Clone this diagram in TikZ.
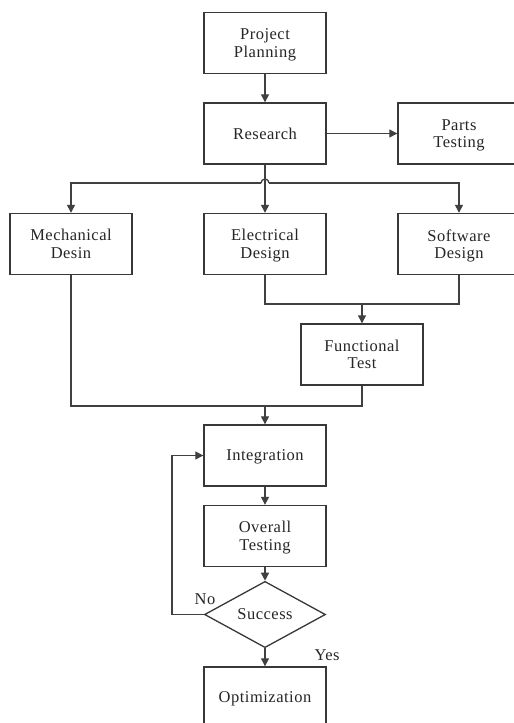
\documentclass[tikz,border=0pt]{standalone}
\usepackage{fontspec}
\setmainfont{Liberation Serif}[LetterSpace=3]
\usetikzlibrary{arrows.meta,shapes.geometric}
\begin{document}
\begin{tikzpicture}[x=1pt,y=-1pt,
  txt/.style={text=black!85, font=\fontsize{16.5}{17.5}\selectfont},
  box/.style={txt, draw=black!78, line width=1.4pt, minimum width=122pt, minimum height=61pt,
    align=center, inner sep=0pt, text depth=0pt},
  decision/.style={txt, diamond, draw=black!78, line width=1.3pt, minimum width=121pt, minimum height=59pt,
    inner sep=0pt},
  lbl/.style={txt, inner sep=0pt},
  conn/.style={draw=black!75, line width=1.3pt},
  arr/.style={conn, -{Triangle[length=8pt,width=8pt]}}]
\fill[white] (0,0) rectangle (514,723);
\useasboundingbox (0,0) rectangle (514,723);
\begin{scope}[overlay]
\clip (0,0) rectangle (514,723);
\node[box] (plan) at (265,43) {Project\\Planning};
\node[box] (research) at (265,133.5) {Research};
\node[box] (parts) at (459,133.5) {Parts\\Testing};
\node[box] (mech) at (71,244) {Mechanical\\Desin};
\node[box] (elec) at (265,244) {Electrical\\Design};
\node[box] (soft) at (459,244) {Software\\Design};
\node[box] (func) at (362,354.5) {Functional\\Test};
\node[box] (integ) at (265,455.5) {Integration};
\node[box] (overall) at (265,536) {Overall\\Testing};
\node[decision] (success) at (265,614.5) {Success};
\node[box] (optim) at (265,697.5) {Optimization};
\node[lbl] (no) at (205,599) {No};
\node[lbl] (yes) at (327,655) {Yes};
\coordinate (bus) at (265,183);
\coordinate (j1) at (362,304);
\coordinate (j2) at (265,406);
\coordinate (lp) at (172,614.5);
\draw[arr] (plan) -- (research);
\draw[arr] (research) -- (parts);
\draw[arr] (research) -- (elec);
\draw[arr] ([xshift=-4pt]bus) -| (mech);
\draw[arr] ([xshift=4pt]bus) -| (soft);
\draw[conn] ([xshift=-4pt]bus) arc[start angle=180, end angle=0, radius=4pt];
\draw[conn] (elec.south) |- (j1) -| (soft.south);
\draw[arr] (j1) -- (func);
\draw[conn] (mech.south) |- (j2);
\draw[conn] (func.south) |- (j2);
\draw[arr] (j2) -- (integ);
\draw[arr] (integ) -- (overall);
\draw[arr] (overall) -- (success);
\draw[arr] (success) -- (optim);
\draw[arr] (success.west) -- (lp) |- (integ.west);
\end{scope}
\end{tikzpicture}
\end{document}
